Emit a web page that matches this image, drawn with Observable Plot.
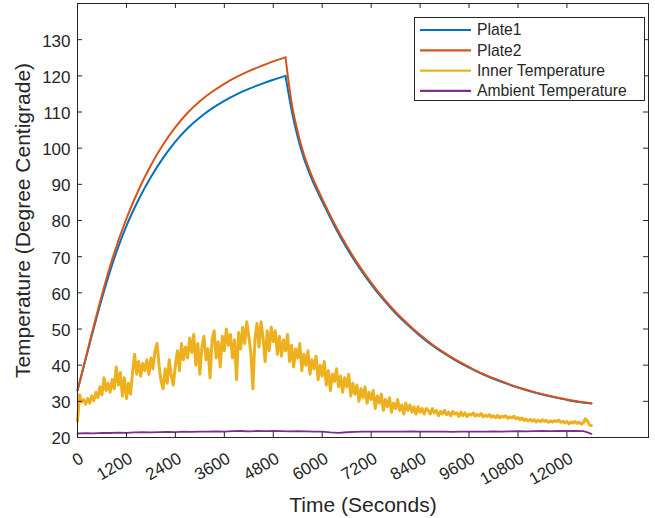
<!DOCTYPE html>
<html><head><meta charset="utf-8">
<script src="https://cdn.jsdelivr.net/npm/d3@7"></script>
<script src="https://cdn.jsdelivr.net/npm/@observablehq/plot@0.6"></script>
<style>
html,body{margin:0;padding:0;background:#fff;}
#chart svg{display:block;}
</style></head><body><div id="chart"></div>
<script>
// ---------- data ----------
const seriesNames = ["Plate1", "Plate2", "Inner Temperature", "Ambient Temperature"];
const seriesColors = ["#0072BD", "#D95319", "#EDB120", "#7E2F8E"];
const xLabel = "Time (Seconds)";
const yLabel = "Temperature (Degree Centigrade)";
const xTicks = [0, 1200, 2400, 3600, 4800, 6000, 7200, 8400, 9600, 10800, 12000];
const yTicks = [20, 30, 40, 50, 60, 70, 80, 90, 100, 110, 120, 130];

const heaterOffTime = 5100; // plates stop heating here
const plateTime = [0, 300, 600, 900, 1200, 1500, 1800, 2100, 2400, 2700, 3000, 3300, 3600, 3900, 4200, 4500, 4800, 5100,
  5250, 5400, 5550, 5700, 5850, 6000, 6300, 6600, 6900, 7200, 7500, 7800, 8100, 8400, 8700, 9000, 9300, 9600, 9900,
  10200, 10500, 10800, 11100, 11400, 11700, 12000, 12300, 12600];
const plate1 = [33, 46, 58.5, 69.5, 78.5, 85.8, 92, 97.3, 101.8, 105.5, 108.5, 111, 113.1, 114.9, 116.4, 117.7, 118.9, 120,
  110.5, 103, 97.2, 92.7, 88.8, 85.3, 78.5, 72.4, 67.1, 62.35, 58.1, 54.35, 51.1, 48.1, 45.45, 43.15, 41.1, 39.3, 37.65,
  36.25, 34.95, 33.8, 32.8, 31.9, 31.1, 30.4, 29.8, 29.4];
const plate2 = [33, 46.5, 59.5, 71, 80.5, 88.5, 95.3, 101, 105.8, 109.8, 113, 115.6, 117.8, 119.7, 121.3, 122.7, 124, 125.1,
  112.5, 104.5, 98.3, 93.6, 89.6, 86, 79.1, 73, 67.6, 62.8, 58.5, 54.7, 51.4, 48.4, 45.7, 43.4, 41.3, 39.5, 37.8,
  36.4, 35.1, 33.9, 32.9, 32, 31.2, 30.5, 29.9, 29.5];

const innerStep = 50; // seconds between inner-temperature samples
const innerTemp = [24.5,31.8,29.8,30.5,29.2,30.8,29.5,31.5,30.2,32.5,
  31,34,31.8,36.5,33,35,32.5,36,33.5,39.5,
  34.5,38,31.5,36.5,30.8,35,32,38,43,37.5,
  41,37,40.5,38.5,41.5,37.5,42,39,44,46,
  40,35.5,33.5,39,35,41.5,37,34.5,40,44,
  38.5,46,41.5,45,42,47.5,43.5,48.5,40,46,
  37.5,45,48,41.5,44.5,36.5,47,49.5,42,46.5,
  39.5,48,44,50,45.5,48.5,42,47,36,49,
  44.5,50.5,46,52,48,43.5,33.5,47,51.5,45,
  52,47.5,41,49.5,44,50.5,46.5,49.5,43,48,
  42.5,47,44,48.5,41,45.5,39.5,44.5,42,46,
  38.5,43,40,44,37.5,41.5,39,42.5,36,40,
  37,41,34.5,38.5,33,37.5,35.5,39,34,37,
  32.5,36.5,34,37.5,31.5,35,32,34.5,30,33.5,
  31,34,29.5,32.5,30.5,33,28,31.5,29.5,32,
  27.5,30.5,28.5,31,27,29.5,28,30.5,27.5,29,
  26.5,29.5,27.5,29,27,28.5,26.5,28.5,27,28,
  26.5,28,27.5,26.5,28,26.8,27.5,26,27.2,26.5,
  27.5,26.3,27,26,27.2,26.5,26.8,25.8,27,26,
  26.8,25.8,26.5,26.2,26.8,25.9,26.4,26,26.6,25.7,
  26.2,25.8,26.3,25.6,26,25.5,26.1,25.4,25.9,25.6,
  26,25.3,25.7,25.4,25.9,25.2,25.5,24.9,25.4,24.7,
  25.1,24.6,25,24.5,24.9,24.3,24.8,24.4,24.9,24.5,
  24.7,24.2,24.6,24.3,24.7,24.4,24.8,24.2,24.5,24.1,
  24.4,23.8,24.3,24,24.4,23.9,24.2,23.7,24,25.2,
  24.6,23.5,23.3];

const ambientTime = [0,200,400,600,800,1000,1200,1400,1600,1800,2000,2200,2400,2600,2800,3000,3200,3400,3600,3800,
  4000,4200,4400,4600,4800,5000,5200,5400,5600,5800,6000,6200,6400,6600,6800,7000,7200,7400,7600,7800,
  8000,8200,8400,8600,8800,9000,9200,9400,9600,9800,10000,10200,10400,10600,10800,11000,11200,11400,11600,11800,
  12000,12200,12400,12450,12600];
const ambientTemp = [21.1,21.2,21.15,21.3,21.25,21.35,21.3,21.4,21.45,21.4,21.5,21.55,21.5,21.6,21.55,21.65,21.6,21.7,21.65,21.75,
  21.8,21.7,21.8,21.75,21.8,21.75,21.7,21.75,21.7,21.65,21.6,21.4,21.3,21.45,21.55,21.6,21.65,21.6,21.65,21.6,
  21.65,21.7,21.65,21.6,21.65,21.6,21.55,21.6,21.65,21.6,21.65,21.7,21.65,21.7,21.75,21.7,21.75,21.8,21.75,21.8,
  21.85,21.8,21.75,21.6,21.0];

// ---------- tables ----------
// each plate curve is split into its heating and cooling phase (sharing the peak sample)
function platePhases(values) {
  const rows = [];
  plateTime.forEach((t, i) => {
    if (t <= heaterOffTime) rows.push({t, v: values[i], phase: "heat"});
    if (t >= heaterOffTime) rows.push({t, v: values[i], phase: "cool"});
  });
  return rows;
}
const p1 = platePhases(plate1);
const p2 = platePhases(plate2);
const inner = innerTemp.map((v, i) => ({t: i * innerStep, v}));
const amb = ambientTime.map((t, i) => ({t, v: ambientTemp[i]}));

// ---------- layout ----------
const W = 655, H = 518, mL = 77, mR = 7, mT = 3, mB = 81;
const frameW = W - mL - mR, frameH = H - mT - mB;
const tickLen = 5;
const font = "'Liberation Sans', Arial, Helvetica, sans-serif";
const ink = "#262626";

const chart = Plot.plot({
  width: W, height: H,
  marginLeft: mL, marginRight: mR, marginTop: mT, marginBottom: mB,
  x: {domain: [0, 14000], axis: null},
  y: {domain: [20, 140], axis: null},
  style: {fontFamily: font, background: "#fff", color: ink},
  marks: [
    Plot.line(p1, {x: "t", y: "v", z: "phase", curve: "monotone-x", stroke: seriesColors[0], strokeWidth: 2}),
    Plot.line(p2, {x: "t", y: "v", z: "phase", curve: "monotone-x", stroke: seriesColors[1], strokeWidth: 2}),
    Plot.line(inner, {x: "t", y: "v", stroke: seriesColors[2], strokeWidth: 3, strokeLinejoin: "round"}),
    Plot.line(amb, {x: "t", y: "v", stroke: seriesColors[3], strokeWidth: 1.8}),
    Plot.frame({stroke: ink, strokeWidth: 1}),
    Plot.tickX(xTicks, {x: d => d, stroke: ink, insetTop: frameH - tickLen}),
    Plot.tickX(xTicks, {x: d => d, stroke: ink, insetBottom: frameH - tickLen}),
    Plot.tickY(yTicks, {y: d => d, stroke: ink, insetRight: frameW - tickLen}),
    Plot.tickY(yTicks, {y: d => d, stroke: ink, insetLeft: frameW - tickLen}),
    Plot.text(xTicks, {x: d => d, frameAnchor: "bottom", text: d => String(d), rotate: -30,
      textAnchor: "end", lineAnchor: "middle", dx: 4.5, dy: 19.5, fontSize: 17, fill: ink}),
    Plot.text(yTicks, {y: d => d, frameAnchor: "left", text: d => String(d),
      textAnchor: "end", lineAnchor: "middle", dx: -7, dy: 1.5, fontSize: 17, fill: ink}),
    Plot.text([xLabel], {frameAnchor: "bottom", text: d => d, textAnchor: "middle", lineAnchor: "middle",
      dy: 68, fontSize: 21, fill: ink}),
    Plot.text([yLabel], {frameAnchor: "left", text: d => d, rotate: -90, textAnchor: "middle", lineAnchor: "middle",
      dx: -54, fontSize: 21, fill: ink})
  ]
});
document.getElementById("chart").appendChild(chart);

// ---------- legend (inside the axes, top-right) ----------
const svg = d3.select(chart);
const lg = svg.append("g").attr("font-family", font).attr("font-size", 15.7)
  .attr("fill", ink).attr("text-anchor", "start");
lg.append("rect").attr("x", 414.5).attr("y", 17.5).attr("width", 230).attr("height", 83)
  .attr("fill", "#fff").attr("stroke", ink).attr("stroke-width", 1);
seriesNames.forEach((name, i) => {
  const y = 30 + i * 20.3;
  lg.append("line").attr("x1", 420).attr("x2", 471).attr("y1", y).attr("y2", y)
    .attr("stroke", seriesColors[i]).attr("stroke-width", 2.2);
  lg.append("text").attr("x", 477).attr("y", y).attr("dy", "0.35em")
    .attr("text-anchor", "start").text(name);
});
</script></body></html>
